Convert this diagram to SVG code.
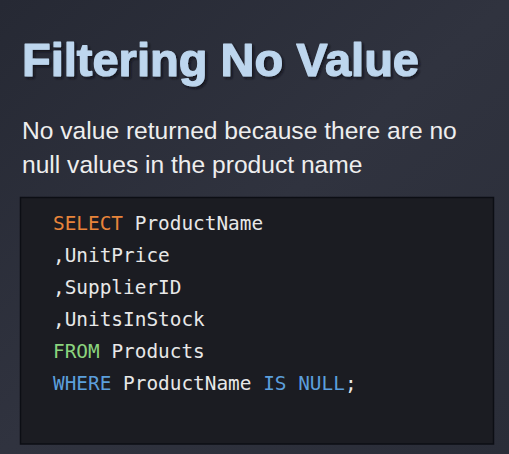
<svg xmlns="http://www.w3.org/2000/svg" width="509" height="454" viewBox="0 0 509 454">
<defs>
<linearGradient id="bg" x1="0" y1="0" x2="1" y2="1">
<stop offset="0" stop-color="#262934"/>
<stop offset="0.5" stop-color="#30333f"/>
<stop offset="1" stop-color="#2a2d38"/>
</linearGradient>
<filter id="ds" x="-5%" y="-20%" width="115%" height="150%">
<feDropShadow dx="2" dy="2" stdDeviation="1" flood-color="#0e1016" flood-opacity="0.8"/>
</filter>
<style>
.title{font-family:"Liberation Sans",Arial,sans-serif;font-weight:bold;font-size:47px;fill:#bdd6ee;stroke:#bdd6ee;stroke-width:1.2;stroke-linejoin:round}
.sub{font-family:"Liberation Sans",Arial,sans-serif;font-size:24.6px;fill:#eeeeee}
.code{font-family:"DejaVu Sans Mono","Liberation Mono",monospace;font-size:19.4px;fill:#e8e8e8}
.kw1{fill:#e8843a}
.kw2{fill:#8bd47e}
.kw3{fill:#5b9fdc}
</style>
</defs>
<rect width="509" height="454" fill="url(#bg)"/>
<g id="title" filter="url(#ds)">
<text class="title" x="22" y="76" textLength="397">Filtering No Value</text>
</g>
<g id="subtitle">
<text class="sub" x="22" y="139">No value returned because there are no</text>
<text class="sub" x="22" y="173">null values in the product name</text>
</g>
<g id="codebox">
<rect x="20.5" y="197.5" width="473" height="246.5" fill="#1b1c22" stroke="#0c0e14" stroke-width="1.5"/>
<text class="code" x="53" y="230"><tspan class="kw1">SELECT</tspan> ProductName</text>
<text class="code" x="53" y="262">,UnitPrice</text>
<text class="code" x="53" y="294">,SupplierID</text>
<text class="code" x="53" y="326">,UnitsInStock</text>
<text class="code" x="53" y="358"><tspan class="kw2">FROM</tspan> Products</text>
<text class="code" x="53" y="390"><tspan class="kw3">WHERE</tspan> ProductName <tspan class="kw3">IS</tspan> <tspan class="kw3">NULL</tspan>;</text>
</g>
</svg>
